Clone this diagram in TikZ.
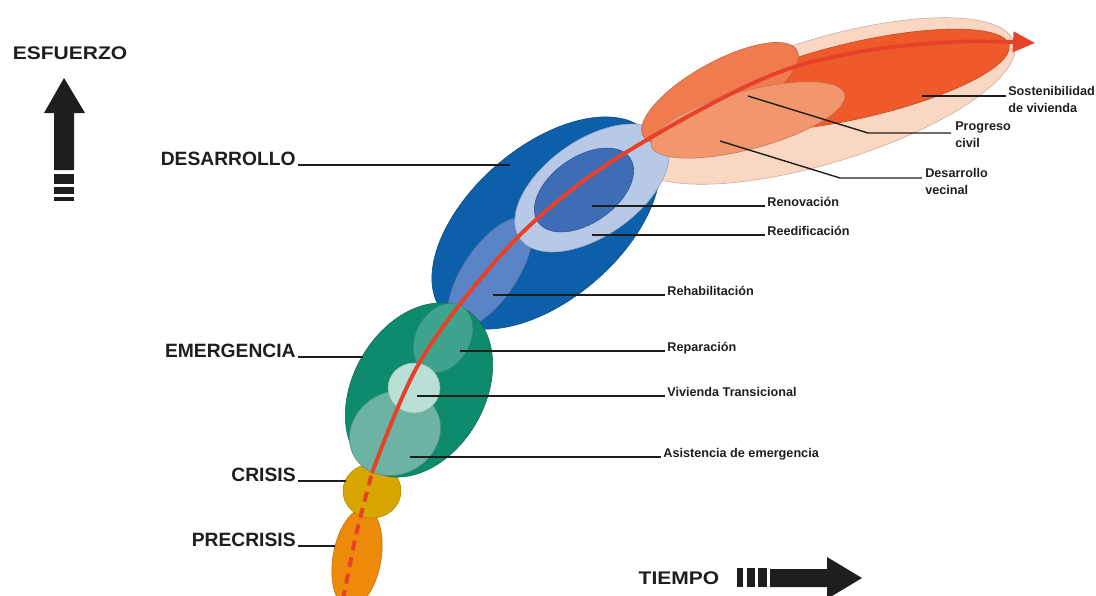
\documentclass[tikz,border=0pt]{standalone}
\usepackage{fontspec}
\setmainfont{Liberation Sans}
\usepackage{graphicx}
\usetikzlibrary{arrows.meta}

\definecolor{precrisisC}{RGB}{238,138,10}
\definecolor{crisisC}{RGB}{217,166,0}
\definecolor{emergC}{RGB}{14,138,108}
\definecolor{reparC}{RGB}{63,164,142}
\definecolor{asistC}{RGB}{109,179,163}
\definecolor{viviC}{RGB}{185,224,214}
\definecolor{desaC}{RGB}{12,95,168}
\definecolor{rehabC}{RGB}{90,132,198}
\definecolor{reediC}{RGB}{184,201,232}
\definecolor{renovC}{RGB}{62,109,181}
\definecolor{peachC}{RGB}{249,215,194}
\definecolor{sostC}{RGB}{239,90,42}
\definecolor{progC}{RGB}{240,123,78}
\definecolor{vecC}{RGB}{242,150,110}
\definecolor{pathC}{RGB}{232,65,42}
\definecolor{inkC}{RGB}{30,30,30}

\begin{document}
\begin{tikzpicture}[x=0.025cm, y=0.025cm,
  zone/.style={fill=#1, draw=#1!80!black, line width=0.4pt},
  phase/.style={font=\bfseries\fontsize{13.7}{16}\selectfont, inner sep=1.5pt, text=inkC},
  tag/.style={font=\bfseries\fontsize{9}{12}\selectfont, inner sep=1.5pt, align=left, text=inkC},
  leader/.style={line width=1pt, draw=inkC},
  axis/.style={font=\bfseries\fontsize{13}{15}\selectfont, text=inkC}]
  \useasboundingbox (0,0) rectangle (1096,595);
  \clip (0,0) rectangle (1096,595);

  % sostenibilidad
  \draw[zone=peachC, rotate around={17:(823,494)}] (823,494) ellipse [x radius=200, y radius=62];
  % desarrollo
  \draw[zone=desaC, rotate around={41:(546,372)}] (546,372) ellipse [x radius=136, y radius=76];
  \draw[zone=rehabC, rotate around={56:(490,322)}] (490,322) ellipse [x radius=64, y radius=27];
  \draw[zone=reediC, rotate around={35:(592,407)}] (592,407) ellipse [x radius=88, y radius=48];
  \draw[zone=renovC, rotate around={35:(584,405)}] (584,405) ellipse [x radius=56, y radius=33];
  \draw[zone=sostC, rotate around={13:(858,515)}] (858,515) ellipse [x radius=155, y radius=38];
  \draw[zone=progC, rotate around={29:(720,502)}] (720,502) ellipse [x radius=88, y radius=31];
  \draw[zone=vecC, rotate around={15:(748,475)}] (748,475) ellipse [x radius=100, y radius=29];
  % precrisis, crisis, emergencia
  \draw[zone=precrisisC, rotate around={80:(357,37)}] (357,37) ellipse [x radius=50, y radius=24];
  \draw[zone=crisisC] (372,104) ellipse [x radius=29, y radius=27];
  \draw[zone=emergC, rotate around={60:(419,205)}] (419,205) ellipse [x radius=93, y radius=66];
  \draw[zone=asistC, rotate around={30:(395,162)}] (395,162) ellipse [x radius=47, y radius=41];
  \draw[zone=reparC, rotate around={60:(443,257)}] (443,257) ellipse [x radius=37, y radius=27];
  \draw[zone=viviC] (414,207) ellipse [x radius=26, y radius=25];

  % trayectoria
  \draw[pathC, line width=2.8pt, dash pattern=on 0.25cm off 0.17cm]
    plot[smooth] coordinates {(343,-5) (356,60) (372,122)};
  \draw[pathC, line width=2.8pt, -{Triangle[length=0.55cm, width=0.5cm]}]
    plot[smooth, tension=0.6] coordinates {(372,122) (417,228) (482,318) (547,385) (630,445)
      (760,515) (853,542) (953,553) (1035,552)};

  % fases
  \coordinate (desarrollo-in) at (510,430);
  \coordinate (emergencia-in) at (363,238);
  \coordinate (crisis-in) at (346,114);
  \coordinate (precrisis-in) at (335,49);
  \node[phase, anchor=base east] (desarrollo) at (298,430) {DESARROLLO};
  \node[phase, anchor=base east] (emergencia) at (298,238) {EMERGENCIA};
  \node[phase, anchor=base east] (crisis) at (298,114) {CRISIS};
  \node[phase, anchor=base east] (precrisis) at (298,49) {PRECRISIS};
  \draw[leader] (desarrollo.base east) -- (desarrollo-in);
  \draw[leader] (emergencia.base east) -- (emergencia-in);
  \draw[leader] (crisis.base east) -- (crisis-in);
  \draw[leader] (precrisis.base east) -- (precrisis-in);

  % etapas
  \coordinate (renov-in) at (592,389);
  \coordinate (reedi-in) at (592,360);
  \coordinate (rehab-in) at (493,300);
  \coordinate (repar-in) at (460,244);
  \coordinate (vivi-in) at (417,199);
  \coordinate (asist-in) at (410,138);
  \node[tag, anchor=base west] (renov) at (765,389) {Renovación};
  \node[tag, anchor=base west] (reedi) at (765,360) {Reedificación};
  \node[tag, anchor=base west] (rehab) at (665,300) {Rehabilitación};
  \node[tag, anchor=base west] (repar) at (665,244) {Reparación};
  \node[tag, anchor=base west] (vivi) at (665,199) {Vivienda Transicional};
  \node[tag, anchor=base west] (asist) at (661,138) {Asistencia de emergencia};
  \draw[leader] (renov-in) -- (renov.base west);
  \draw[leader] (reedi-in) -- (reedi.base west);
  \draw[leader] (rehab-in) -- (rehab.base west);
  \draw[leader] (repar-in) -- (repar.base west);
  \draw[leader] (vivi-in) -- (vivi.base west);
  \draw[leader] (asist-in) -- (asist.base west);

  \coordinate (sost-in) at (922,499);
  \coordinate (sost-end) at (1006,499);
  \coordinate (prog-in) at (748,499);
  \coordinate (prog-bend) at (868,462);
  \coordinate (prog-end) at (951,462);
  \coordinate (vec-in) at (720,454);
  \coordinate (vec-bend) at (840,417);
  \coordinate (vec-end) at (922,417);
  \node[tag, anchor=north west, inner sep=0pt] (sost) at (1008,509) {Sostenibilidad\\de vivienda};
  \node[tag, anchor=north west, inner sep=0pt] (prog) at (955,473) {Progreso\\civil};
  \node[tag, anchor=north west, inner sep=0pt] (vec) at (925,427) {Desarrollo\\vecinal};
  \draw[leader] (sost-in) -- (sost-end);
  \draw[leader] (prog-in) -- (prog-bend) -- (prog-end);
  \draw[leader] (vec-in) -- (vec-bend) -- (vec-end);

  % ejes
  \node[axis] (esfuerzo) at (70,542) {\scalebox{1.15}[1]{ESFUERZO}};
  \fill[inkC] (54,425) -- (54,482) -- (44,482) -- (64,517) -- (85,482) -- (74,482) -- (74,425) -- cycle;
  \fill[inkC] (54,411) rectangle (74,421);
  \fill[inkC] (54,401) rectangle (74,408);
  \fill[inkC] (54,394) rectangle (74,398);

  \node[axis] (tiempo) at (679,17) {\scalebox{1.15}[1]{TIEMPO}};
  \fill[inkC] (737,8) rectangle (743,27);
  \fill[inkC] (747,8) rectangle (755,27);
  \fill[inkC] (758,8) rectangle (767,27);
  \fill[inkC] (770,8) -- (770,26) -- (827,26) -- (827,38) -- (862,17) -- (827,-4) -- (827,8) -- cycle;
\end{tikzpicture}
\end{document}
